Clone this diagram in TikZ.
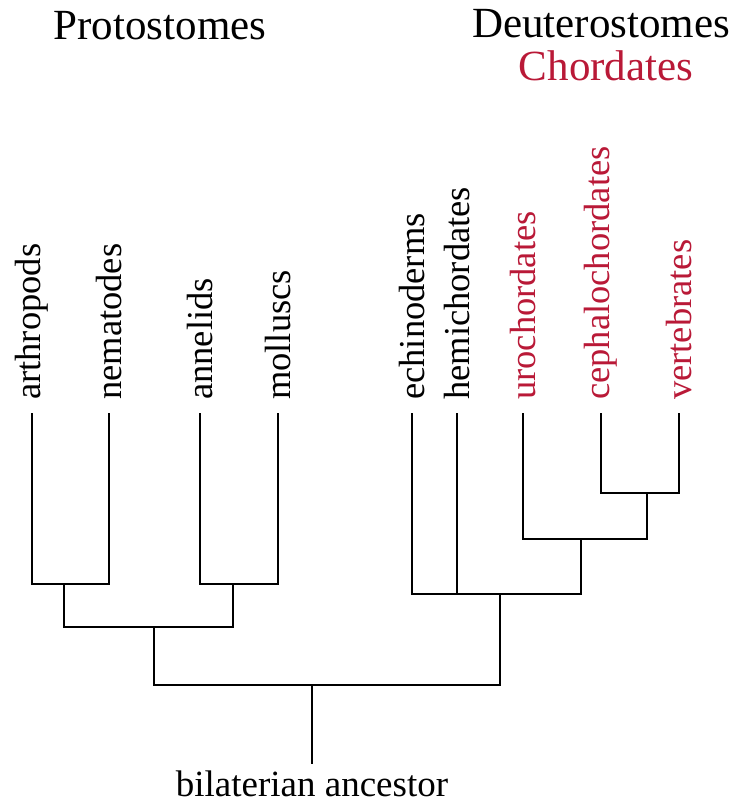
\documentclass[tikz,border=0pt]{standalone}
\usepackage{fontspec}
\setmainfont{Liberation Serif}
\definecolor{chord}{RGB}{185,25,55}
\begin{document}
\begin{tikzpicture}[x=1pt,y=-1pt,
  branch/.style={line width=2pt,black},
  leaf/.style={rotate=90,anchor=west,inner sep=0pt,font=\fontsize{36.5}{36.5}\selectfont},
  chleaf/.style={leaf,text=chord},
  title/.style={anchor=base,inner sep=0pt,font=\fontsize{43}{43}\selectfont}]
\useasboundingbox (0,0) rectangle (752,804);
% titles
\node[title] (prot) at (160,39) {Protostomes};
\node[title] (deut) at (601,37) {Deuterostomes};
\node[title,text=chord] (chor) at (606,80) {Chordates};
% leaf labels
\node[leaf] (nA) at (32,400) {arthropods};
\node[leaf] (nN) at (109,400) {nematodes};
\node[leaf] (nAn) at (200,400) {annelids};
\node[leaf] (nM) at (278,400) {molluscs};
\node[leaf] (nE) at (412,400) {echinoderms};
\node[leaf] (nH) at (457,400) {hemichordates};
\node[chleaf] (nU) at (523,400) {urochordates};
\node[chleaf] (nC) at (601,400) {cephalochordates};
\node[chleaf] (nV) at (679,400) {vertebrates};
% branch tips
\coordinate (tA) at (32,413);
\coordinate (tN) at (109,413);
\coordinate (tAn) at (200,413);
\coordinate (tM) at (278,413);
\coordinate (tE) at (412,413);
\coordinate (tH) at (457,413);
\coordinate (tU) at (523,413);
\coordinate (tC) at (601,413);
\coordinate (tV) at (679,413);
% internal nodes
\coordinate (jAN) at (64,584);
\coordinate (jAM) at (233,584);
\coordinate (jP) at (154,627);
\coordinate (jCV) at (647,493);
\coordinate (jUCV) at (581,539);
\coordinate (jD) at (500,594);
\coordinate (root) at (312,685);
\coordinate (base) at (312,764);
% branches
\draw[branch] (tA) |- (jAN) -| (tN);
\draw[branch] (tAn) |- (jAM) -| (tM);
\draw[branch] (jAN) |- (jP) -| (jAM);
\draw[branch] (tC) |- (jCV) -| (tV);
\draw[branch] (tU) |- (jUCV) -| (jCV);
\draw[branch] (tE) |- (jD) -| (jUCV);
\draw[branch] (tH) -- (tH |- jD);
\draw[branch] (jP) |- (root) -| (jD);
\draw[branch] (root) -- (base);
\node[anchor=base,inner sep=0pt,font=\fontsize{37}{37}\selectfont] (anc) at (312,796) {bilaterian ancestor};
\end{tikzpicture}
\end{document}
